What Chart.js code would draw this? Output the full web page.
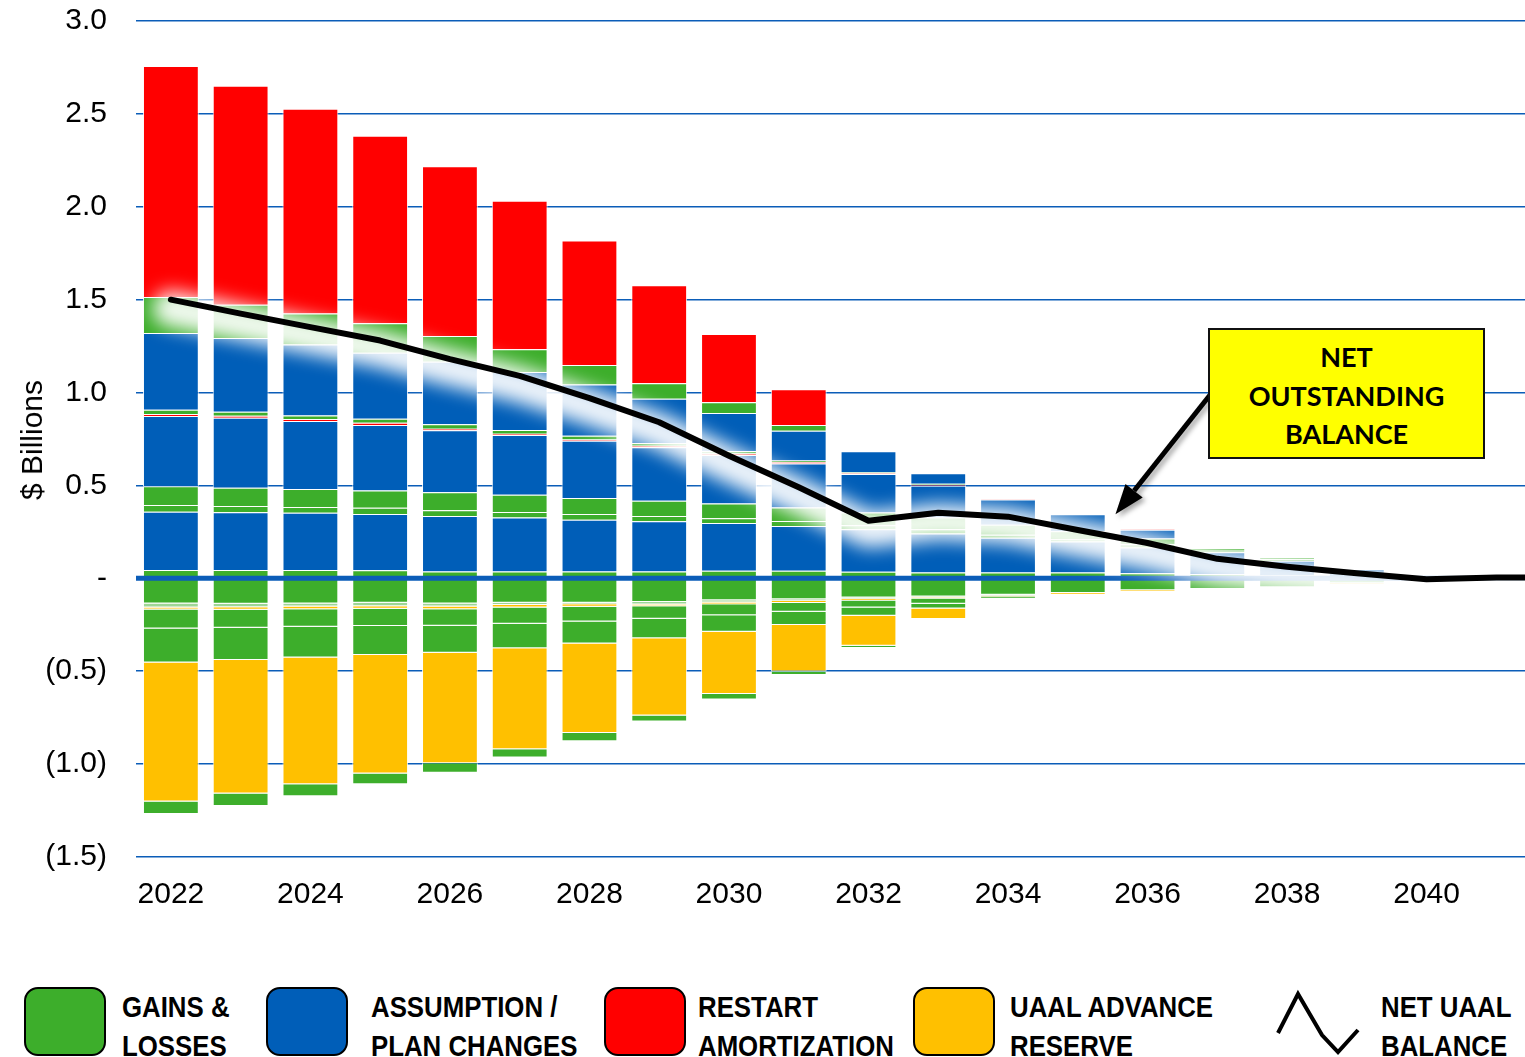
<!DOCTYPE html>
<html>
<head>
<meta charset="utf-8">
<title>Net UAAL balance</title>
<script src="https://cdn.jsdelivr.net/npm/chart.js@4.4.1/dist/chart.umd.min.js"></script>
<style>
  html, body { margin: 0; padding: 0; background: #fff; }
  #wrap { position: relative; width: 1525px; height: 1057px; overflow: hidden; font-family: "Liberation Sans", Arial, sans-serif; color: #000; }
  #chart { position: absolute; left: 0; top: 0; }
  .ytitle { position: absolute; left: 32px; top: 440px; transform: translate(-50%, -50%) rotate(-90deg); font-size: 30px; white-space: nowrap; }
  .note { position: absolute; box-sizing: border-box; background: #ffff00; border: 2px solid #111;
          font-family: Lato, "Open Sans", sans-serif; font-weight: bold; font-size: 27px; line-height: 38.5px;
          text-align: center; padding-top: 8px; }
  .sw { position: absolute; top: 987px; width: 82px; height: 69px; box-sizing: border-box; border: 2.5px solid #000; border-radius: 14px; }
  .lg { position: absolute; top: 987px; font-weight: bold; font-size: 30px; line-height: 39px; white-space: nowrap;
        transform: scaleX(0.86); transform-origin: 0 0; }
</style>
</head>
<body>
<div id="wrap">
  <!-- 원본은 2042 부근에서 잘린 그림이므로 캔버스를 화면보다 넓게 둔다 -->
  <canvas id="chart" width="1601" height="950"></canvas>
  <div class="ytitle">$ Billions</div>
  <div class="note" id="note">NET<br>OUTSTANDING<br>BALANCE</div>

  <div class="sw" style="left:24px;background:#3DAE2B"></div>
  <div class="lg" style="left:122px">GAINS &amp;<br>LOSSES</div>
  <div class="sw" style="left:266px;background:#005EB8"></div>
  <div class="lg" style="left:371px">ASSUMPTION /<br>PLAN CHANGES</div>
  <div class="sw" style="left:604px;background:#FF0000"></div>
  <div class="lg" style="left:698px">RESTART<br>AMORTIZATION</div>
  <div class="sw" style="left:913px;background:#FFC000"></div>
  <div class="lg" style="left:1010px">UAAL ADVANCE<br>RESERVE</div>
  <svg style="position:absolute;left:1270px;top:985px" width="100" height="72">
    <polyline points="8,48 28,9 52,50 68,67 88,45" fill="none" stroke="#000" stroke-width="4" stroke-linejoin="miter"/>
  </svg>
  <div class="lg" style="left:1381px">NET UAAL<br>BALANCE</div>
</div>

<script>
// 연도별 UAAL 구성 (단위: $ Billions)
const years = ['2022', '2023', '2024', '2025', '2026', '2027', '2028', '2029', '2030', '2031',
               '2032', '2033', '2034', '2035', '2036', '2037', '2038', '2039', '2040', '2041', '2042'];

// 양(+) 방향, 아래에서 위로 쌓이는 순서
const gainsPos1 = [0.045, 0.045, 0.045, 0.043, 0.037, 0.037, 0.037, 0.037, 0.041, 0.041, 0.036, 0.031, 0.031, 0.031, 0.027, 0.023, 0.015, 0.010, 0, 0, 0];
const planPos1  = [0.314, 0.311, 0.308, 0.303, 0.298, 0.290, 0.279, 0.270, 0.257, 0.241, 0.228, 0.211, 0.188, 0.167, 0.139, 0.118, 0.080, 0.040, 0, 0, 0];
const gainsPos2 = [0.036, 0.034, 0.031, 0.034, 0.032, 0.030, 0.030, 0.029, 0.026, 0.027, 0.022, 0.022, 0.016, 0.013, 0.017, 0.007, 0.008, 0, 0, 0, 0];
const gainsPos3 = [0.100, 0.097, 0.097, 0.093, 0.096, 0.093, 0.087, 0.082, 0.079, 0.072, 0.068, 0.063, 0.054, 0.043, 0.032, 0.015, 0.010, 0, 0, 0, 0];
const planPos2  = [0.379, 0.377, 0.366, 0.353, 0.334, 0.321, 0.307, 0.288, 0.261, 0.237, 0.207, 0.172, 0.135, 0.091, 0.047, 0, 0, 0, 0, 0, 0];
const restartPos1 = [0.011, 0.011, 0.011, 0.011, 0.008, 0.007, 0.007, 0.008, 0.008, 0.008, 0.005, 0.005, 0.004, 0, 0.003, 0, 0, 0, 0, 0, 0];
const gainsPos4 = [0.022, 0.022, 0.019, 0.022, 0.025, 0.021, 0.020, 0.015, 0.013, 0.008, 0.005, 0.005, 0, 0, 0, 0, 0, 0, 0, 0, 0];
const planPos3  = [0.414, 0.396, 0.381, 0.355, 0.336, 0.312, 0.276, 0.238, 0.205, 0.161, 0.113, 0.057, 0, 0, 0, 0, 0, 0, 0, 0, 0];
const gainsPos5 = [0.194, 0.180, 0.167, 0.159, 0.139, 0.122, 0.105, 0.083, 0.058, 0.030, 0, 0, 0, 0, 0, 0, 0, 0, 0, 0, 0];
const restartPos2 = [1.243, 1.179, 1.102, 1.009, 0.913, 0.799, 0.670, 0.527, 0.367, 0.193, 0, 0, 0, 0, 0, 0, 0, 0, 0, 0, 0];

// 음(-) 방향, 0에서 아래로 쌓이는 순서
const gainsNeg1 = [-0.136, -0.137, -0.136, -0.132, -0.136, -0.132, -0.131, -0.128, -0.118, -0.113, -0.103, -0.098, -0.089, -0.079, -0.064, -0.058, -0.048, -0.027, 0, 0, 0];
const gainsNeg2 = [-0.021, -0.018, -0.015, -0.018, -0.015, -0.012, -0.009, -0.013, -0.012, -0.009, -0.008, -0.005, -0.005, 0, 0, 0, 0, 0, 0, 0, 0];
const reserveNeg1 = [-0.011, -0.014, -0.016, -0.014, -0.015, -0.013, -0.013, -0.009, -0.010, -0.011, -0.008, -0.006, -0.004, -0.008, -0.008, 0, 0, -0.006, 0, 0, 0];
const gainsNeg3 = [-0.102, -0.097, -0.094, -0.092, -0.089, -0.087, -0.079, -0.067, -0.059, -0.047, -0.038, -0.028, -0.012, 0, 0, 0, 0, 0, 0, 0, 0];
const gainsNeg4 = [-0.183, -0.173, -0.165, -0.157, -0.145, -0.132, -0.119, -0.106, -0.088, -0.071, -0.045, -0.025, 0, 0, 0, 0, 0, 0, 0, 0, 0];
const reserveNeg2 = [-0.748, -0.719, -0.683, -0.638, -0.595, -0.544, -0.481, -0.416, -0.335, -0.251, -0.161, -0.057, 0, 0, 0, 0, 0, 0, 0, 0, 0];
const gainsNeg5 = [-0.067, -0.067, -0.064, -0.058, -0.052, -0.045, -0.045, -0.032, -0.030, -0.018, -0.012, 0, 0, 0, 0, 0, 0, 0, 0, 0, 0];

// 순 UAAL 잔액 (검은 선)
const netBalance = [1.50, 1.425, 1.352, 1.28, 1.18, 1.09, 0.97, 0.84, 0.66, 0.49, 0.31, 0.353, 0.332, 0.26, 0.19, 0.105, 0.062, 0.027, -0.005, 0.004, 0.004];

const GREEN = '#3DAE2B', GREEN_LIGHT = 'rgba(61,174,43,0.5)', BLUE = '#005EB8', RED = '#FF0000', GOLD = '#FFC000';
const GRID_BLUE = '#0B5DB8';

// 주석 박스 위치, 플롯 영역 목표 위치(페이지 기준)
const NOTE = { left: 1208, top: 328, width: 277, height: 131 };
const PLOT_TOP = 21, PLOT_BOTTOM = 857;

(function () {
  const note = document.getElementById('note');
  note.style.left = NOTE.left + 'px';
  note.style.top = NOTE.top + 'px';
  note.style.width = NOTE.width + 'px';
  note.style.height = NOTE.height + 'px';

  const canvas = document.getElementById('chart');
  let canvasTop = 0;

  function barSet(label, values, color) {
    return {
      type: 'bar', label, data: values.map(v => (v === 0 ? null : v)),
      backgroundColor: color, borderColor: 'rgba(255,255,255,0.85)', borderWidth: 1,
      stack: 'uaal', order: 3, barPercentage: 0.8, categoryPercentage: 1.0
    };
  }

  const datasets = [
    barSet('Gains & Losses', gainsPos1, GREEN),
    barSet('Assumption / Plan Changes', planPos1, BLUE),
    barSet('Gains & Losses', gainsPos2, GREEN),
    barSet('Gains & Losses', gainsPos3, GREEN),
    barSet('Assumption / Plan Changes', planPos2, BLUE),
    barSet('Restart Amortization', restartPos1, RED),
    barSet('Gains & Losses', gainsPos4, GREEN),
    barSet('Assumption / Plan Changes', planPos3, BLUE),
    barSet('Gains & Losses', gainsPos5, GREEN),
    barSet('Restart Amortization', restartPos2, RED),
    barSet('Gains & Losses', gainsNeg1, GREEN),
    barSet('Gains & Losses', gainsNeg2, GREEN_LIGHT),
    barSet('UAAL Advance Reserve', reserveNeg1, GOLD),
    barSet('Gains & Losses', gainsNeg3, GREEN),
    barSet('Gains & Losses', gainsNeg4, GREEN),
    barSet('UAAL Advance Reserve', reserveNeg2, GOLD),
    barSet('Gains & Losses', gainsNeg5, GREEN),
    {
      type: 'line', label: 'glow', data: netBalance, stack: 'glow', order: 2,
      borderColor: 'rgba(255,255,255,0.92)', borderWidth: 36, pointRadius: 0,
      borderCapStyle: 'round', borderJoinStyle: 'round', tension: 0
    },
    {
      type: 'line', label: 'Net UAAL Balance', data: netBalance, stack: 'net', order: 1,
      borderColor: '#000', borderWidth: 6, pointRadius: 0,
      borderCapStyle: 'round', borderJoinStyle: 'round', tension: 0
    }
  ];
  const GLOW = datasets.length - 2;

  const overlay = {
    id: 'overlay',
    beforeDatasetDraw(chart, args) {
      if (args.index !== GLOW) return;
      const { ctx, chartArea, scales } = chart;
      const y0 = scales.y.getPixelForValue(0);
      // 0 기준선 (막대 위, 선 아래)
      ctx.save();
      ctx.strokeStyle = GRID_BLUE;
      ctx.lineWidth = 5;
      ctx.beginPath();
      ctx.moveTo(chartArea.left, y0);
      ctx.lineTo(chartArea.right, y0);
      ctx.stroke();
      ctx.restore();
      // 선 주변의 흰색 번짐 효과
      ctx.save();
      ctx.filter = 'blur(9px)';
      ctx.translate(0, 9);
    },
    afterDatasetDraw(chart, args) {
      if (args.index === GLOW) chart.ctx.restore();
    },
    afterDatasetsDraw(chart) {
      const { ctx, scales } = chart;
      const x = scales.x, y = scales.y;
      const tipX = x.getPixelForValue(13) + 0.54 * (x.getPixelForValue(14) - x.getPixelForValue(13));
      const tipY = y.getPixelForValue(0.345);
      // 박스는 페이지 좌표, 캔버스 오프셋 보정
      const tailX = NOTE.left + 2, tailY = NOTE.top + 67 - canvasTop;
      const ang = Math.atan2(tipY - tailY, tipX - tailX);
      const headLen = 30, headHalf = 11;
      const bx = tipX - headLen * Math.cos(ang), by = tipY - headLen * Math.sin(ang);
      ctx.save();
      ctx.shadowColor = 'rgba(0,0,0,0.35)';
      ctx.shadowBlur = 5;
      ctx.shadowOffsetX = 3;
      ctx.shadowOffsetY = 3;
      ctx.strokeStyle = '#000';
      ctx.fillStyle = '#000';
      ctx.lineWidth = 5;
      ctx.beginPath();
      ctx.moveTo(tailX, tailY);
      ctx.lineTo(bx, by);
      ctx.stroke();
      ctx.beginPath();
      ctx.moveTo(tipX, tipY);
      ctx.lineTo(bx + headHalf * Math.sin(ang), by - headHalf * Math.cos(ang));
      ctx.lineTo(bx - headHalf * Math.sin(ang), by + headHalf * Math.cos(ang));
      ctx.closePath();
      ctx.fill();
      ctx.restore();
    }
  };

  function fmtTick(v) {
    if (Math.abs(v) < 1e-9) return '-';
    return v < 0 ? '(' + (-v).toFixed(1) + ')' : v.toFixed(1);
  }

  let xAxisHeight = 93;

  const chart = new Chart(canvas, {
    type: 'bar',
    data: { labels: years, datasets },
    options: {
      responsive: false,
      animation: false,
      devicePixelRatio: 1,
      layout: { padding: 0, autoPadding: false },
      plugins: { legend: { display: false }, tooltip: { enabled: false } },
      scales: {
        x: {
          stacked: true,
          // 눈금 표시는 숨기고, 라벨 아래 여백은 tickLength로 준다 (ticks.padding은 오른쪽 여백을 만든다)
          grid: { display: false, drawTicks: true, tickLength: 20 },
          border: { display: false },
          afterFit: (s) => { s.height = xAxisHeight; },
          ticks: {
            autoSkip: false, maxRotation: 0, minRotation: 0, padding: 0,
            color: '#000', font: { family: 'Liberation Sans', size: 30 },
            callback: (v, i) => (i % 2 === 0 && i < 20 ? years[i] : '')
          }
        },
        y: {
          stacked: true,
          min: -1.5, max: 3.0,
          grid: { color: GRID_BLUE, lineWidth: 1.6, drawTicks: false },
          border: { display: false },
          afterFit: (s) => { s.width = 136; },
          ticks: {
            stepSize: 0.5, padding: 29, color: '#000',
            font: { family: 'Liberation Sans', size: 30 },
            callback: fmtTick
          }
        }
      }
    },
    plugins: [overlay]
  });

  // 플롯 영역을 원본과 같은 위치에 맞춤
  canvasTop = PLOT_TOP - chart.chartArea.top;
  canvas.style.top = canvasTop + 'px';
  xAxisHeight = canvas.height + canvasTop - PLOT_BOTTOM;
  chart.update();
})();
</script>
</body>
</html>
